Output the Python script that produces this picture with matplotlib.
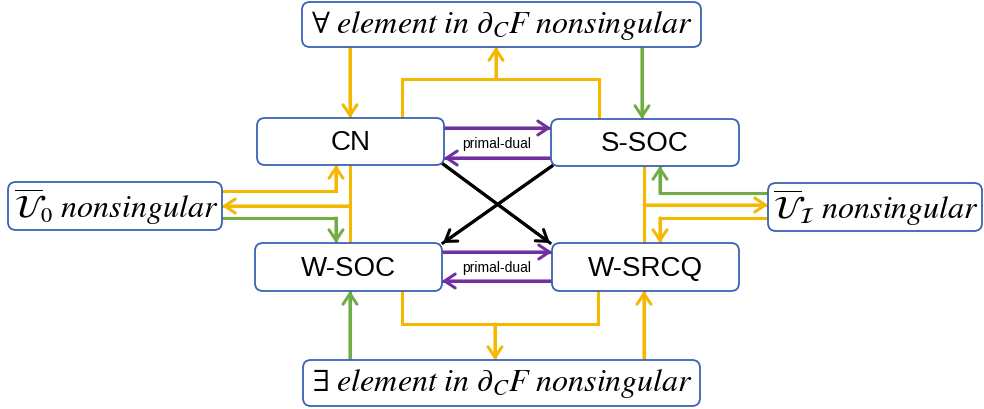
import matplotlib.pyplot as plt
from matplotlib.patches import FancyBboxPatch, FancyArrowPatch

plt.rcParams['mathtext.fontset'] = 'stix'

# box labels and pixel extents (x0, y0, x1, y1), y measured from the top
box_labels = ['CN', 'S-SOC', 'W-SOC', 'W-SRCQ']
box_extents = [(257, 119, 444, 166), (551, 120, 739, 167),
               (255, 244, 442, 292), (552, 244, 739, 292)]
cond_labels = [r'$\forall\ element\ in\ \partial_C F\ nonsingular$',
               r'$\exists\ element\ in\ \partial_C F\ nonsingular$',
               r'$\overline{\mathcal{U}}_0\ nonsingular$',
               r'$\overline{\mathcal{U}}_{\mathcal{I}}\ nonsingular$']
cond_extents = [(302, 3, 701, 48), (303, 361, 700, 407),
                (8, 183, 222, 231), (768, 184, 982, 232)]
edge_label = 'primal-dual'
edge_label_pos = [(497, 144), (497, 268)]

YEL = '#F5B800'
GRN = '#70AD47'
PUR = '#7030A0'
BLK = '#000000'

# connectors: colour, polyline points, arrowhead at end?
links = [
    (YEL, [(350, 48), (350, 119)], True),
    (YEL, [(402, 119), (402, 80), (599, 80), (599, 120)], False),
    (YEL, [(496, 80), (496, 48)], True),
    (GRN, [(642, 48), (642, 120)], True),
    (YEL, [(222, 192), (336, 192), (336, 166)], True),
    (YEL, [(350, 166), (350, 244)], False),
    (YEL, [(350, 207), (222, 207)], True),
    (GRN, [(222, 219), (336, 219), (336, 244)], True),
    (GRN, [(768, 194), (660, 194), (660, 167)], True),
    (YEL, [(644, 167), (644, 244)], False),
    (YEL, [(644, 206), (768, 206)], True),
    (YEL, [(768, 219), (660, 219), (660, 244)], True),
    (YEL, [(402, 292), (402, 325), (598, 325), (598, 292)], False),
    (YEL, [(495, 325), (495, 361)], True),
    (GRN, [(350, 361), (350, 292)], True),
    (YEL, [(644, 361), (644, 292)], True),
    (PUR, [(444, 129), (551, 129)], True),
    (PUR, [(551, 159), (444, 159)], True),
    (PUR, [(442, 253), (552, 253)], True),
    (PUR, [(552, 282), (442, 282)], True),
    (BLK, [(443, 165), (550, 244)], True),
    (BLK, [(552, 167), (443, 244)], True),
]

fig = plt.figure(figsize=(9.84, 4.10), dpi=100)
ax = fig.add_axes([0, 0, 1, 1])
ax.set_xlim(0, 984)
ax.set_ylim(410, 0)
ax.axis('off')

for col, pts, head in links:
    xs = [p[0] for p in pts]
    ys = [p[1] for p in pts]
    if head:
        ax.plot(xs[:-1], ys[:-1], color=col, lw=2.2, solid_joinstyle='miter')
        ax.plot(xs[-2:], ys[-2:], color=col, lw=2.2)
        arr = FancyArrowPatch(pts[-2], pts[-1], arrowstyle='->,head_length=7.5,head_width=5',
                              color=col, lw=2.2, shrinkA=0, shrinkB=0, mutation_scale=1)
        ax.add_patch(arr)
    else:
        ax.plot(xs, ys, color=col, lw=2.2, solid_joinstyle='miter')

def draw_box(ext):
    x0, y0, x1, y1 = ext
    ax.add_patch(FancyBboxPatch((x0, y0), x1 - x0, y1 - y0,
                                boxstyle='round,pad=0,rounding_size=8',
                                fc='white', ec='#3A62B4', lw=1.3, zorder=3))

for lab, ext in zip(box_labels, box_extents):
    draw_box(ext)
    ax.text((ext[0] + ext[2]) / 2, (ext[1] + ext[3]) / 2 + 1, lab, ha='center', va='center',
            fontsize=20, family='Liberation Sans', zorder=4)

for lab, ext in zip(cond_labels, cond_extents):
    draw_box(ext)
    ax.text((ext[0] + ext[2]) / 2 + 1, (ext[1] + ext[3]) / 2, lab, ha='center', va='center',
            fontsize=23, zorder=4)

for x, y in edge_label_pos:
    ax.text(x, y, edge_label, ha='center', va='center', fontsize=10,
            family='Liberation Sans', zorder=4)

fig.savefig('out.png', dpi=100)
